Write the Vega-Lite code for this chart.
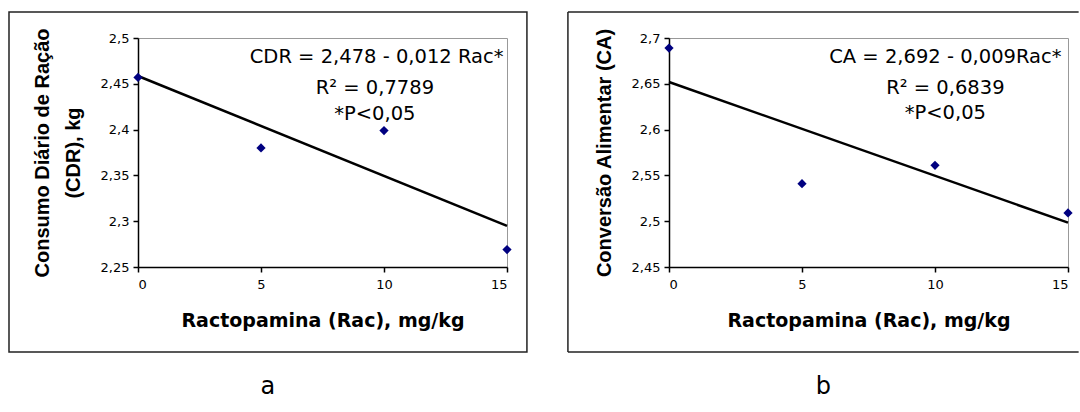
{
  "$schema": "https://vega.github.io/schema/vega-lite/v6.json",
  "padding": {"left": 7, "top": 10, "right": 0, "bottom": 0},
  "background": "#ffffff",
  "spacing": 37,
  "config": {
    "font": "DejaVu Sans",
    "view": {"stroke": "#999999", "strokeWidth": 1},
    "axis": {
      "grid": false,
      "domainColor": "#000000",
      "domainWidth": 1.5,
      "tickColor": "#000000",
      "tickWidth": 1.5,
      "tickSize": 5,
      "labelFont": "DejaVu Sans",
      "labelFontSize": 13,
      "labelColor": "#000000",
      "titleColor": "#000000",
      "titleFont": "DejaVu Sans",
      "titleFontWeight": "bold"
    },
    "title": {"font": "DejaVu Sans", "fontSize": 24, "fontWeight": "normal", "color": "#000000"}
  },
  "datasets": {
    "cdr": [
      {"rac": 0, "cdr": 2.457},
      {"rac": 5, "cdr": 2.380},
      {"rac": 10, "cdr": 2.399},
      {"rac": 15, "cdr": 2.269}
    ],
    "cdrFit": [
      {"rac": 0, "cdr": 2.4585},
      {"rac": 15, "cdr": 2.2948}
    ],
    "ca": [
      {"rac": 0, "ca": 2.689},
      {"rac": 5, "ca": 2.541},
      {"rac": 10, "ca": 2.561},
      {"rac": 15, "ca": 2.509}
    ],
    "caFit": [
      {"rac": 0, "ca": 2.652},
      {"rac": 15, "ca": 2.4984}
    ],
    "one": [{}]
  },
  "hconcat": [
    {
      "width": 369,
      "height": 229,
      "title": {"text": "a", "orient": "bottom", "frame": "bounds", "anchor": "middle", "offset": 22},
      "layer": [
        {
          "data": {"name": "one"},
          "mark": {"type": "rect", "fillOpacity": 0, "stroke": "#222222", "strokeWidth": 1.5, "clip": false},
          "encoding": {
            "x": {"datum": -5.244, "type": "quantitative", "scale": {"domain": [0, 15], "nice": false, "zero": false}},
            "x2": {"datum": 15.81},
            "y": {"datum": 2.1572, "type": "quantitative", "scale": {"domain": [2.25, 2.5], "nice": false, "zero": false}},
            "y2": {"datum": 2.5284}
          }
        },
        {
          "data": {"name": "cdrFit"},
          "mark": {"type": "line", "color": "#000000", "strokeWidth": 2.5},
          "encoding": {
            "x": {"field": "rac", "type": "quantitative", "scale": {"domain": [0, 15], "nice": false, "zero": false},
              "axis": {"values": [0, 5, 10, 15], "title": "Ractopamina (Rac), mg/kg", "titleFontSize": 19, "titlePadding": 20, "labelPadding": 6}},
            "y": {"field": "cdr", "type": "quantitative", "scale": {"domain": [2.25, 2.5], "nice": false, "zero": false},
              "axis": {"values": [2.25, 2.3, 2.35, 2.4, 2.45, 2.5], "labelExpr": "replace(format(datum.value, '.2~f'), '.', ',')",
                "title": ["Consumo Diário de Ração", "(CDR), kg"], "titleFont": "Liberation Sans", "titleFontSize": 20, "titleLineHeight": 31, "titlePadding": 17, "labelPadding": 4}}
          }
        },
        {
          "data": {"name": "cdr"},
          "mark": {"type": "point", "shape": "diamond", "filled": true, "color": "#000080", "size": 85, "opacity": 1},
          "encoding": {
            "x": {"field": "rac", "type": "quantitative", "scale": {"domain": [0, 15], "nice": false, "zero": false}},
            "y": {"field": "cdr", "type": "quantitative", "scale": {"domain": [2.25, 2.5], "nice": false, "zero": false}}
          }
        },
        {
          "data": {"name": "one"},
          "mark": {"type": "text", "text": "CDR =  2,478 - 0,012 Rac*", "fontSize": 19.5, "align": "center", "baseline": "middle", "color": "#000000"},
          "encoding": {
            "x": {"datum": 9.7, "type": "quantitative", "scale": {"domain": [0, 15], "nice": false, "zero": false}},
            "y": {"datum": 2.4793, "type": "quantitative", "scale": {"domain": [2.25, 2.5], "nice": false, "zero": false}}
          }
        },
        {
          "data": {"name": "one"},
          "mark": {"type": "text", "text": "R² = 0,7789", "fontSize": 19.5, "align": "center", "baseline": "middle", "color": "#000000"},
          "encoding": {
            "x": {"datum": 9.63, "type": "quantitative", "scale": {"domain": [0, 15], "nice": false, "zero": false}},
            "y": {"datum": 2.4454, "type": "quantitative", "scale": {"domain": [2.25, 2.5], "nice": false, "zero": false}}
          }
        },
        {
          "data": {"name": "one"},
          "mark": {"type": "text", "text": "*P<0,05", "fontSize": 19.5, "align": "center", "baseline": "middle", "color": "#000000"},
          "encoding": {
            "x": {"datum": 9.63, "type": "quantitative", "scale": {"domain": [0, 15], "nice": false, "zero": false}},
            "y": {"datum": 2.417, "type": "quantitative", "scale": {"domain": [2.25, 2.5], "nice": false, "zero": false}}
          }
        }
      ]
    },
    {
      "width": 399,
      "height": 229,
      "title": {"text": "b", "orient": "bottom", "frame": "bounds", "anchor": "middle", "offset": 22},
      "layer": [
        {
          "data": {"name": "one"},
          "mark": {"type": "rule", "color": "#222222", "strokeWidth": 1.5, "clip": false},
          "encoding": {
            "x": {"datum": -3.8, "type": "quantitative", "scale": {"domain": [0, 15], "nice": false, "zero": false}},
            "x2": {"datum": 15.4},
            "y": {"datum": 2.7284, "type": "quantitative", "scale": {"domain": [2.45, 2.7], "nice": false, "zero": false}}
          }
        },
        {
          "data": {"name": "one"},
          "mark": {"type": "rule", "color": "#222222", "strokeWidth": 1.5, "clip": false},
          "encoding": {
            "x": {"datum": -3.8, "type": "quantitative", "scale": {"domain": [0, 15], "nice": false, "zero": false}},
            "x2": {"datum": 15.4},
            "y": {"datum": 2.3572, "type": "quantitative", "scale": {"domain": [2.45, 2.7], "nice": false, "zero": false}}
          }
        },
        {
          "data": {"name": "one"},
          "mark": {"type": "rule", "color": "#222222", "strokeWidth": 1.5, "clip": false},
          "encoding": {
            "x": {"datum": -3.8, "type": "quantitative", "scale": {"domain": [0, 15], "nice": false, "zero": false}},
            "y": {"datum": 2.3572, "type": "quantitative", "scale": {"domain": [2.45, 2.7], "nice": false, "zero": false}},
            "y2": {"datum": 2.7284}
          }
        },
        {
          "data": {"name": "caFit"},
          "mark": {"type": "line", "color": "#000000", "strokeWidth": 2.5},
          "encoding": {
            "x": {"field": "rac", "type": "quantitative", "scale": {"domain": [0, 15], "nice": false, "zero": false},
              "axis": {"values": [0, 5, 10, 15], "title": "Ractopamina (Rac), mg/kg", "titleFontSize": 19, "titlePadding": 20, "labelPadding": 6}},
            "y": {"field": "ca", "type": "quantitative", "scale": {"domain": [2.45, 2.7], "nice": false, "zero": false},
              "axis": {"values": [2.45, 2.5, 2.55, 2.6, 2.65, 2.7], "labelExpr": "replace(format(datum.value, '.2~f'), '.', ',')",
                "title": "Conversão Alimentar (CA)", "titleFont": "Liberation Sans", "titleFontSize": 20, "titlePadding": 17, "labelPadding": 4}}
          }
        },
        {
          "data": {"name": "ca"},
          "mark": {"type": "point", "shape": "diamond", "filled": true, "color": "#000080", "size": 85, "opacity": 1},
          "encoding": {
            "x": {"field": "rac", "type": "quantitative", "scale": {"domain": [0, 15], "nice": false, "zero": false}},
            "y": {"field": "ca", "type": "quantitative", "scale": {"domain": [2.45, 2.7], "nice": false, "zero": false}}
          }
        },
        {
          "data": {"name": "one"},
          "mark": {"type": "text", "text": "CA = 2,692 - 0,009Rac*", "fontSize": 19.5, "align": "center", "baseline": "middle", "color": "#000000"},
          "encoding": {
            "x": {"datum": 10.39, "type": "quantitative", "scale": {"domain": [0, 15], "nice": false, "zero": false}},
            "y": {"datum": 2.6793, "type": "quantitative", "scale": {"domain": [2.45, 2.7], "nice": false, "zero": false}}
          }
        },
        {
          "data": {"name": "one"},
          "mark": {"type": "text", "text": "R² = 0,6839", "fontSize": 19.5, "align": "center", "baseline": "middle", "color": "#000000"},
          "encoding": {
            "x": {"datum": 10.39, "type": "quantitative", "scale": {"domain": [0, 15], "nice": false, "zero": false}},
            "y": {"datum": 2.6454, "type": "quantitative", "scale": {"domain": [2.45, 2.7], "nice": false, "zero": false}}
          }
        },
        {
          "data": {"name": "one"},
          "mark": {"type": "text", "text": "*P<0,05", "fontSize": 19.5, "align": "center", "baseline": "middle", "color": "#000000"},
          "encoding": {
            "x": {"datum": 10.39, "type": "quantitative", "scale": {"domain": [0, 15], "nice": false, "zero": false}},
            "y": {"datum": 2.618, "type": "quantitative", "scale": {"domain": [2.45, 2.7], "nice": false, "zero": false}}
          }
        }
      ]
    }
  ]
}
